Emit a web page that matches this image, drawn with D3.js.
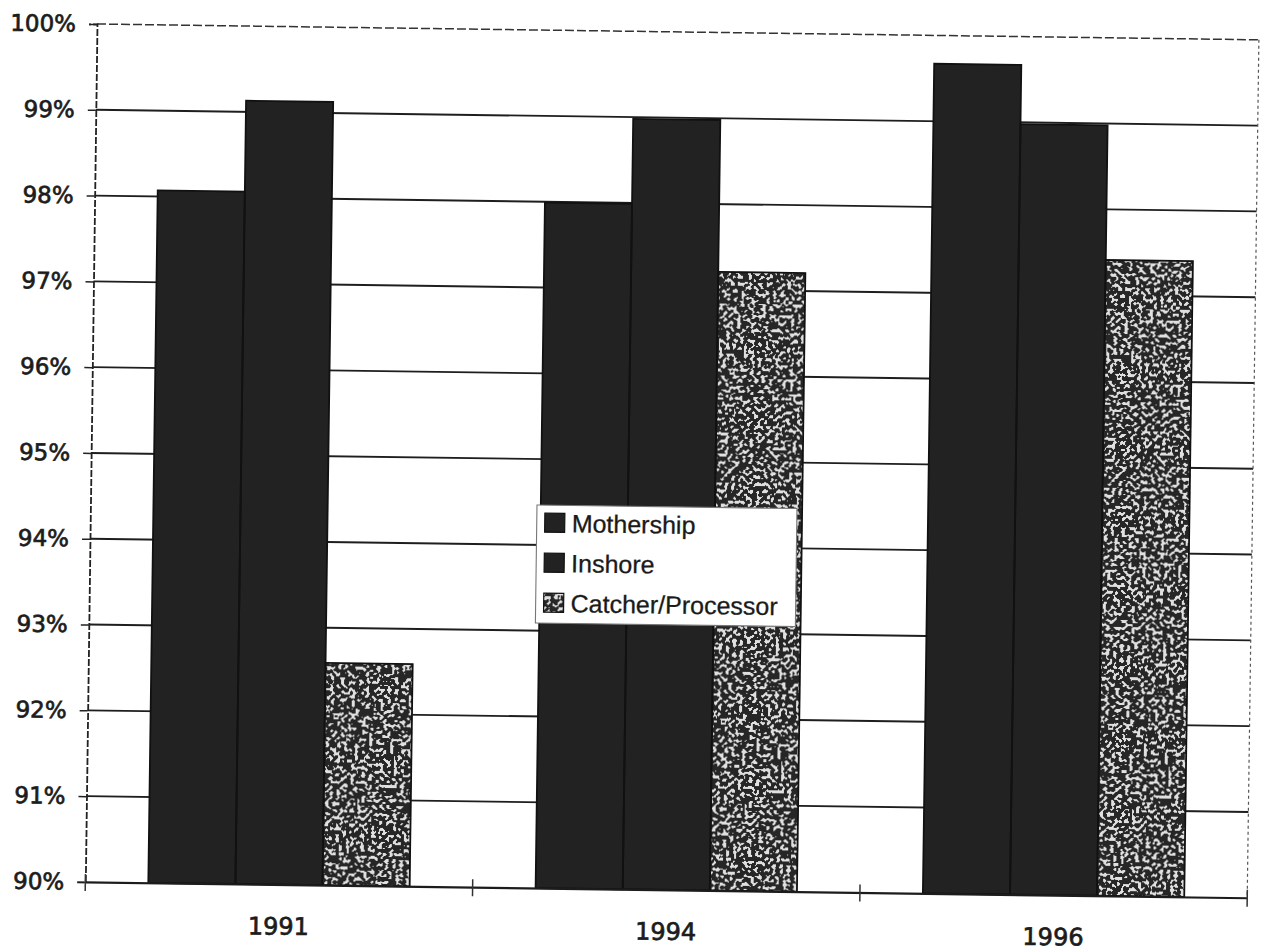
<!DOCTYPE html>
<html>
<head>
<meta charset="utf-8">
<script src="https://cdn.jsdelivr.net/npm/d3@7"></script>
<style>
  html, body { margin: 0; padding: 0; background: #fff; }
  svg { display: block; }
</style>
</head>
<body>
<svg id="chart" width="1262" height="951"></svg>
<script>
// Processing rates by sector (percent)
const years = ["1991", "1994", "1996"];
const seriesNames = ["Mothership", "Inshore", "Catcher/Processor"];
const mothership = [98.07, 97.99, 99.67];
const inshore = [99.13, 98.98, 98.98];
const catcherProcessor = [92.59, 97.21, 97.41];
const yTicks = [90, 91, 92, 93, 94, 95, 96, 97, 98, 99, 100];

const seriesValues = [mothership, inshore, catcherProcessor];
const rows = years.map((yr, i) => ({
  year: yr,
  bars: seriesNames.map((s, k) => ({ series: s, value: seriesValues[k][i] }))
}));

const W = 1162, H = 858;
const svg = d3.select("#chart");
svg.append("rect").attr("width", 1262).attr("height", 951).attr("fill", "#fff");

// speckled fill for the catcher/processor bars
const defs = svg.append("defs");
const f = defs.append("filter").attr("id", "speckle")
  .attr("x", 0).attr("y", 0).attr("width", 1).attr("height", 1)
  .attr("color-interpolation-filters", "sRGB");
f.append("feTurbulence").attr("type", "fractalNoise").attr("baseFrequency", 0.28)
  .attr("numOctaves", 1).attr("seed", 11).attr("result", "n");
f.append("feColorMatrix").attr("in", "n").attr("type", "matrix")
  .attr("values", "1 0 0 0 0  1 0 0 0 0  1 0 0 0 0  0 0 0 0 1").attr("result", "g");
const ct = f.append("feComponentTransfer").attr("in", "g").attr("result", "t");
const table = d3.range(20).map(i => i < 11 ? 0.15 : 0.88).join(" ");
["feFuncR", "feFuncG", "feFuncB"].forEach(fn => ct.append(fn).attr("type", "discrete").attr("tableValues", table));
f.append("feGaussianBlur").attr("in", "t").attr("stdDeviation", 0.5).attr("result", "b");
f.append("feComposite").attr("in", "b").attr("in2", "SourceGraphic").attr("operator", "in");

const g = svg.append("g").attr("transform", "translate(97,24) rotate(0.78)");

const y = d3.scaleLinear().domain([90, 100]).range([H, 0]);
const x0 = d3.scaleBand().domain(years).range([0, W]).paddingInner(0).paddingOuter(0);
const x1 = d3.scaleBand().domain(seriesNames).range([0, x0.bandwidth()])
  .paddingInner(0).paddingOuter(0.723);

// gridlines
g.append("g").selectAll("line")
  .data(yTicks.filter(t => t > 90 && t < 100))
  .join("line")
  .attr("x1", 0).attr("x2", W)
  .attr("y1", d => y(d)).attr("y2", d => y(d))
  .attr("stroke", "#1e1e1e").attr("stroke-width", 1.9);

// top and right border of the plot area
g.append("line").attr("x1", 0).attr("x2", W).attr("y1", y(100)).attr("y2", y(100))
  .attr("stroke", "#333").attr("stroke-width", 1.5).attr("stroke-dasharray", "9,3");
g.append("line").attr("x1", W).attr("x2", W).attr("y1", y(100)).attr("y2", y(90))
  .attr("stroke", "#555").attr("stroke-width", 1.2).attr("stroke-dasharray", "3,3");

// bars
const fills = { "Mothership": "#222", "Inshore": "#222" };
const groups = g.append("g").selectAll("g")
  .data(rows).join("g")
  .attr("transform", d => `translate(${x0(d.year)},0)`);

groups.selectAll("rect.fill")
  .data(d => d.bars).join("rect")
  .attr("class", "fill")
  .attr("x", d => x1(d.series))
  .attr("width", x1.bandwidth())
  .attr("y", d => y(d.value))
  .attr("height", d => y(90) - y(d.value))
  .attr("fill", d => fills[d.series] || "#444")
  .attr("filter", d => fills[d.series] ? null : "url(#speckle)");

groups.selectAll("rect.edge")
  .data(d => d.bars).join("rect")
  .attr("class", "edge")
  .attr("x", d => x1(d.series))
  .attr("width", x1.bandwidth())
  .attr("y", d => y(d.value))
  .attr("height", d => y(90) - y(d.value))
  .attr("fill", "none")
  .attr("stroke", "#111").attr("stroke-width", 1.8);

// value axis
const yAxis = g.append("g")
  .call(d3.axisLeft(y).tickValues(yTicks).tickFormat(d => d + "%").tickSize(8).tickPadding(13));
yAxis.select(".domain").attr("stroke", "#222").attr("stroke-width", 1.8).attr("stroke-dasharray", "7,2");
yAxis.selectAll(".tick line").attr("stroke", "#222").attr("stroke-width", 1.5);
yAxis.selectAll(".tick text")
  .attr("font-family", "'DejaVu Sans', sans-serif").attr("font-size", 23)
  .attr("fill", "#1c1c1c").attr("stroke", "#1c1c1c").attr("stroke-width", 0.7);

// category axis
const xAxis = g.append("g").attr("transform", `translate(0,${H})`)
  .call(d3.axisBottom(x0).tickSize(0).tickPadding(33));
xAxis.select(".domain").attr("stroke", "#1c1c1c").attr("stroke-width", 2.2);
xAxis.selectAll(".tick text")
  .attr("font-family", "'DejaVu Sans', sans-serif").attr("font-size", 24)
  .attr("fill", "#1c1c1c").attr("stroke", "#1c1c1c").attr("stroke-width", 0.7);

// tick marks between categories
const bounds = years.map(yr => x0(yr)).concat([W]);
g.append("g").attr("transform", `translate(0,${H})`).selectAll("line")
  .data(bounds).join("line")
  .attr("x1", d => d).attr("x2", d => d)
  .attr("y1", -8).attr("y2", 9)
  .attr("stroke", "#333").attr("stroke-width", 1.5);

// legend
const legend = g.append("g").attr("transform", "translate(446.5,475)");
legend.append("rect").attr("width", 260).attr("height", 118)
  .attr("fill", "#fff").attr("stroke", "#777").attr("stroke-width", 1.1);
const items = legend.selectAll("g.item").data(seriesNames).join("g")
  .attr("class", "item")
  .attr("transform", (d, i) => `translate(8,${8 + i * 40})`);
items.append("rect").attr("width", 20).attr("height", 19)
  .attr("fill", d => fills[d] || "#555")
  .attr("filter", d => fills[d] ? null : "url(#speckle)");
items.append("rect").attr("width", 20).attr("height", 19)
  .attr("fill", "none").attr("stroke", "#111").attr("stroke-width", 1.2);
items.append("text")
  .attr("x", 27).attr("y", 10).attr("dy", "0.35em")
  .attr("font-family", "'Liberation Sans', Arial, sans-serif").attr("font-size", 25)
  .attr("fill", "#1a1a1a").attr("stroke", "#1a1a1a").attr("stroke-width", 0.3)
  .text(d => d);
</script>
</body>
</html>
